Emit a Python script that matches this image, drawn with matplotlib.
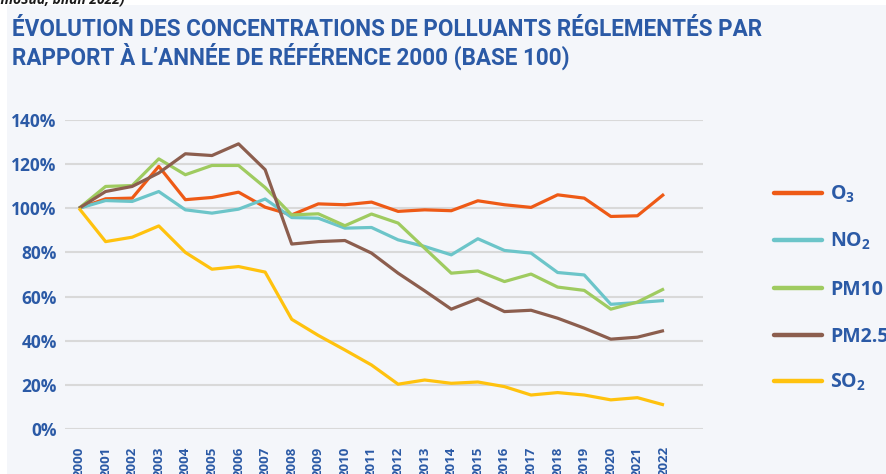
import numpy as np
import matplotlib
matplotlib.use("Agg")
import matplotlib.pyplot as plt
from matplotlib import font_manager
from matplotlib.lines import Line2D
from matplotlib.patches import Rectangle

# ---- data (index 2000 = 100) ----
years = list(range(2000, 2023))
labels = ["O$_3$", "NO$_2$", "PM10", "PM2.5", "SO$_2$"]
o3 = [100, 104.3, 104.6, 119.0, 103.9, 104.9, 107.3, 100.5, 97.0, 102.0, 101.6, 102.8,
      98.6, 99.3, 98.9, 103.4, 101.6, 100.4, 106.1, 104.6, 96.3, 96.6, 106.4]
no2 = [100, 103.5, 103.1, 107.6, 99.3, 97.8, 99.6, 104.2, 95.8, 95.5, 91.0, 91.3,
       85.7, 82.7, 78.9, 86.2, 80.9, 79.7, 70.9, 69.8, 56.5, 57.3, 58.2]
pm10 = [100, 109.9, 110.3, 122.4, 115.2, 119.4, 119.4, 109.4, 97.0, 97.5, 92.1, 97.4,
        93.3, 81.9, 70.6, 71.6, 66.8, 70.2, 64.3, 62.8, 54.3, 57.5, 63.5]
pm25 = [100, 107.6, 109.9, 116.0, 124.7, 123.9, 129.2, 117.5, 83.8, 84.9, 85.4, 79.7,
        70.6, 62.6, 54.3, 59.0, 53.2, 53.8, 50.2, 45.7, 40.7, 41.6, 44.6]
so2 = [100, 84.9, 86.9, 92.0, 80.0, 72.4, 73.6, 71.1, 49.7, 42.4, 35.8, 29.0,
       20.3, 22.2, 20.7, 21.3, 19.2, 15.4, 16.5, 15.4, 13.2, 14.2, 10.9]
yticks = [0, 20, 40, 60, 80, 100, 120, 140]

series = [o3, no2, pm10, pm25, so2]
colors = ["#EE5A16", "#6CC5C9", "#9FCB60", "#8C5E4E", "#FFC20E"]

BLUE = "#2B5AA6"


def pick(fams):
    for f in fams:
        try:
            font_manager.findfont(font_manager.FontProperties(family=f),
                                  fallback_to_default=False)
            return f
        except ValueError:
            pass
    return "DejaVu Sans"


TITLE_FONT = pick(["Liberation Sans Narrow", "Roboto", "Open Sans"])
BODY_FONT = pick(["Open Sans", "Noto Sans", "DejaVu Sans"])

plt.rcParams["font.family"] = [BODY_FONT, "DejaVu Sans"]
plt.rcParams["mathtext.fontset"] = "custom"
plt.rcParams["mathtext.rm"] = f"{BODY_FONT}:bold"
plt.rcParams["mathtext.it"] = f"{BODY_FONT}:bold"
plt.rcParams["mathtext.bf"] = f"{BODY_FONT}:bold"
plt.rcParams["mathtext.default"] = "rm"

W, H = 886, 474
fig = plt.figure(figsize=(W / 100, H / 100), dpi=100)
fig.patch.set_facecolor("white")

# light panel behind the whole graphic
fig.patches.append(Rectangle((7 / W, 0), 1, (H - 5) / H, transform=fig.transFigure,
                             facecolor="#F4F6FA", edgecolor="none", zorder=-10))

# source line, partly above the frame
fig.text(125 / W, 1 - 3 / H, "(Source : AtmoSud, bilan 2022)", ha="right", va="baseline",
         fontsize=10, style="italic", fontweight="bold", color="#1A1A1A")

# title
t1 = fig.text(12 / W, 1 - 36.5 / H,
              "ÉVOLUTION DES CONCENTRATIONS DE POLLUANTS RÉGLEMENTÉS PAR",
              ha="left", va="baseline", fontsize=18, fontweight="bold",
              family=[TITLE_FONT, "DejaVu Sans"], color=BLUE)
t2 = fig.text(12 / W, 1 - 65 / H,
              "RAPPORT À L’ANNÉE DE RÉFÉRENCE 2000 (BASE 100)",
              ha="left", va="baseline", fontsize=18, fontweight="bold",
              family=[TITLE_FONT, "DejaVu Sans"], color=BLUE)
renderer = fig.canvas.get_renderer()
w1 = t1.get_window_extent(renderer).width
size = 18 * 753 / w1
t1.set_fontsize(size)
t2.set_fontsize(size)

# plot area
ax = fig.add_axes([65 / W, 45 / H, 638 / W, 309 / H])
ax.set_facecolor("none")
x = np.arange(len(years))
for vals, c in zip(series, colors):
    ax.plot(x, vals, color=c, lw=2.3, solid_capstyle="butt", zorder=3)

ax.set_xlim(-14 / 26.59, 22 + 39 / 26.59)
ax.set_ylim(0, 140)
ax.set_yticks(yticks)
ax.set_yticklabels([f"{v}%" for v in yticks])
ax.set_xticks(x)
ax.set_xticklabels([str(y) for y in years], rotation=90, va="top")
ax.yaxis.grid(True, color="#D9D9D9", lw=1.5)
ax.set_axisbelow(True)
for s in ax.spines.values():
    s.set_visible(False)
ax.tick_params(axis="y", length=0, pad=6, labelsize=12.5, labelcolor=BLUE)
ax.tick_params(axis="x", length=0, pad=12.5, labelsize=9.5, labelcolor=BLUE)
for lab in ax.get_yticklabels() + ax.get_xticklabels():
    lab.set_fontweight("bold")

# legend on the right
leg_y = [192.7, 239.5, 288, 334.7, 380.5]
for yy, c, lab in zip(leg_y, colors, labels):
    fig.add_artist(Line2D([774 / W, 822 / W], [1 - yy / H, 1 - yy / H],
                          transform=fig.transFigure, color=c, lw=3.2,
                          solid_capstyle="round"))
    fig.text(830 / W, 1 - (yy + 7.3) / H, lab, ha="left", va="baseline",
             fontsize=14, fontweight="bold", color=BLUE)

fig.savefig("out.png", dpi=100, facecolor=fig.get_facecolor())
